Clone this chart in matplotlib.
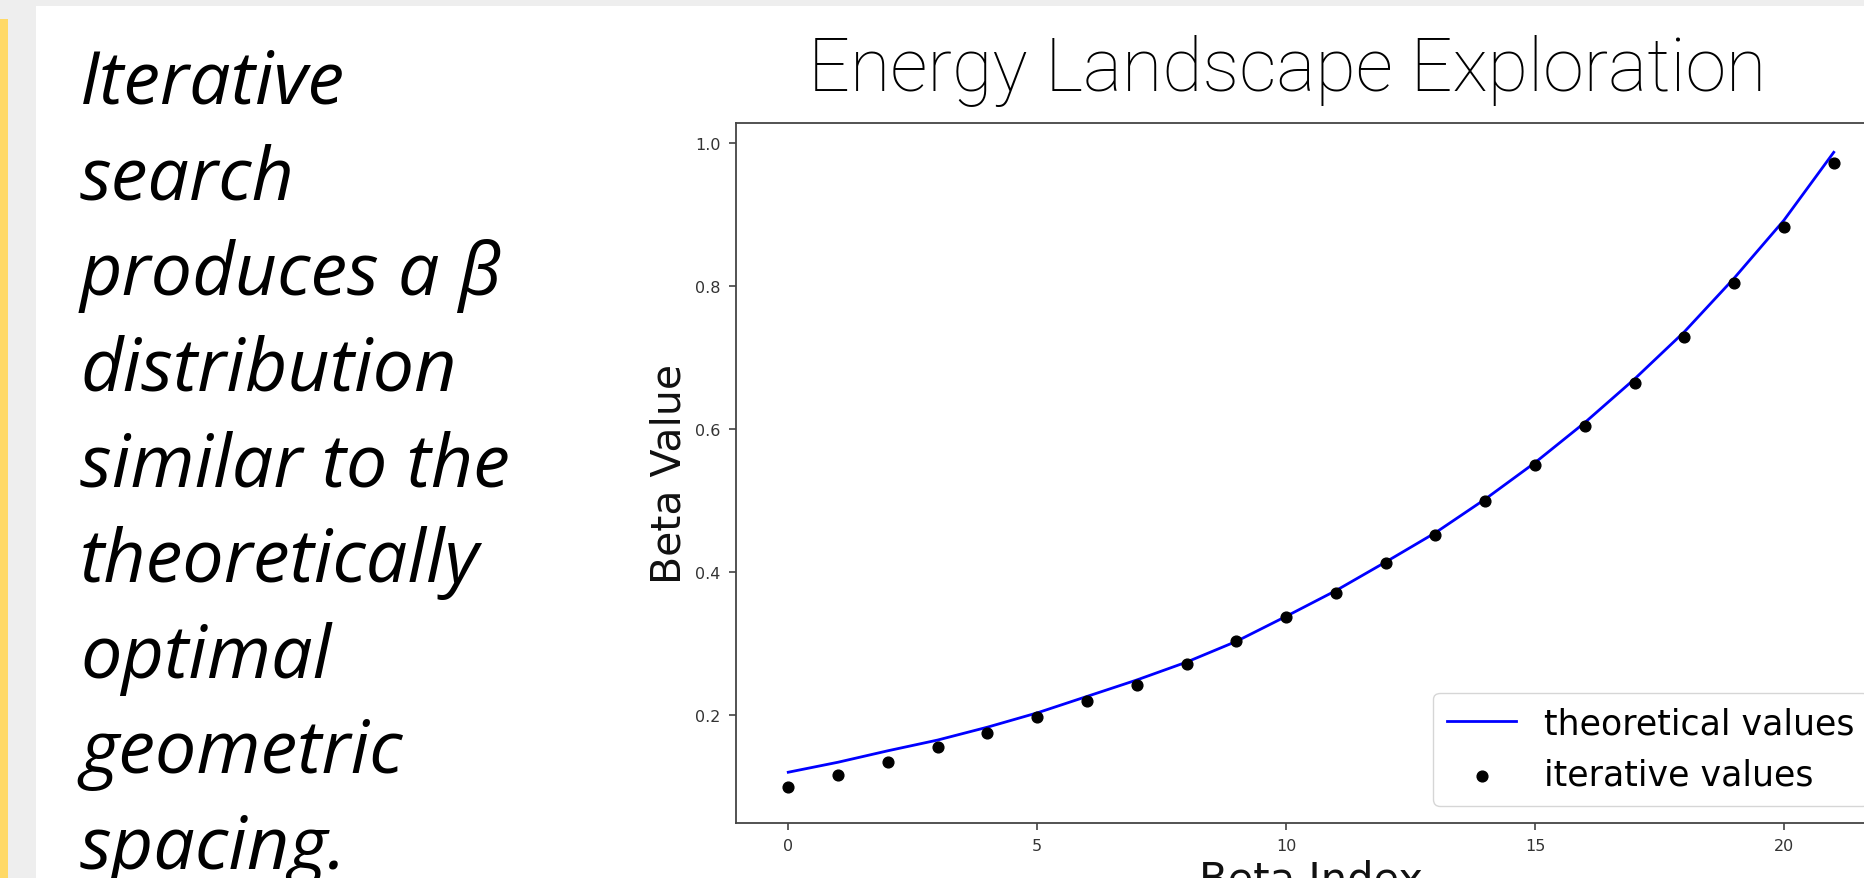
import matplotlib
matplotlib.use("Agg")
import matplotlib.pyplot as plt
from matplotlib.patches import Rectangle

# ---- data ----
beta_index = [0, 1, 2, 3, 4, 5, 6, 7, 8, 9, 10, 11, 12, 13, 14, 15, 16, 17, 18, 19, 20, 21]
theoretical_values = [0.120, 0.134, 0.150, 0.165, 0.183, 0.203, 0.226, 0.249, 0.274, 0.303,
                      0.338, 0.374, 0.414, 0.455, 0.502, 0.553, 0.609, 0.670, 0.736, 0.811,
                      0.892, 0.987]
iterative_values = [0.100, 0.116, 0.134, 0.155, 0.175, 0.197, 0.220, 0.242, 0.272, 0.304,
                    0.337, 0.371, 0.412, 0.452, 0.500, 0.549, 0.604, 0.664, 0.729, 0.804,
                    0.883, 0.972]
x_ticks = [0, 5, 10, 15, 20]
y_ticks = [0.2, 0.4, 0.6, 0.8, 1.0]
title_text = "Energy Landscape Exploration"
side_lines = ["Iterative", "search", "produces a \u03b2", "distribution", "similar to the",
              "theoretically", "optimal", "geometric", "spacing."]

W, H = 1864, 879
fig = plt.figure(figsize=(W / 100, H / 100), dpi=100, facecolor="#eeeeee")

def fx(px):
    return px / W

def fy(py):
    return 1 - py / H

# slide background pieces
fig.patches.append(Rectangle((fx(36), 0), 1 - fx(36), fy(7), transform=fig.transFigure,
                             facecolor="white", edgecolor="none", zorder=-5))
fig.patches.append(Rectangle((0, 0), fx(8), fy(20), transform=fig.transFigure,
                             facecolor="#ffd966", edgecolor="none", zorder=-5))

# side text
for i, line in enumerate(side_lines):
    fig.text(fx(80), fy(104 + 95.6 * i), line, family="Open Sans", style="italic",
             fontsize=53, va="baseline", ha="left", color="black")

# title
fig.text(fx(1287), fy(91), title_text, family="Roboto", weight="light", fontsize=53,
         ha="center", va="baseline", color="black")

# axes
left, right, bottom, top = 736, 1886, 824, 124
ax = fig.add_axes([fx(left), fy(bottom), fx(right - left), (bottom - top) / H])
ax.plot(beta_index, theoretical_values, color="blue", lw=2, label="theoretical values")
ax.scatter(beta_index, iterative_values, color="black", s=60, label="iterative values", zorder=3)
ax.set_xlim(-1.05, 22.05)
ax.set_ylim(0.049, 1.028)
ax.set_xticks(x_ticks)
ax.set_yticks(y_ticks)
ax.tick_params(labelsize=11.5, colors="#333333", length=5, width=1.1, pad=6)
for sp in ax.spines.values():
    sp.set_color("#444444")
    sp.set_linewidth(1.3)
ax.set_xlabel("Beta Index", fontsize=30, color="#111111")
ax.set_ylabel("Beta Value", fontsize=29.5, color="#111111")
ax.legend(loc="lower right", fontsize=25, frameon=True)

fig.savefig("out.png", dpi=100, facecolor=fig.get_facecolor())
